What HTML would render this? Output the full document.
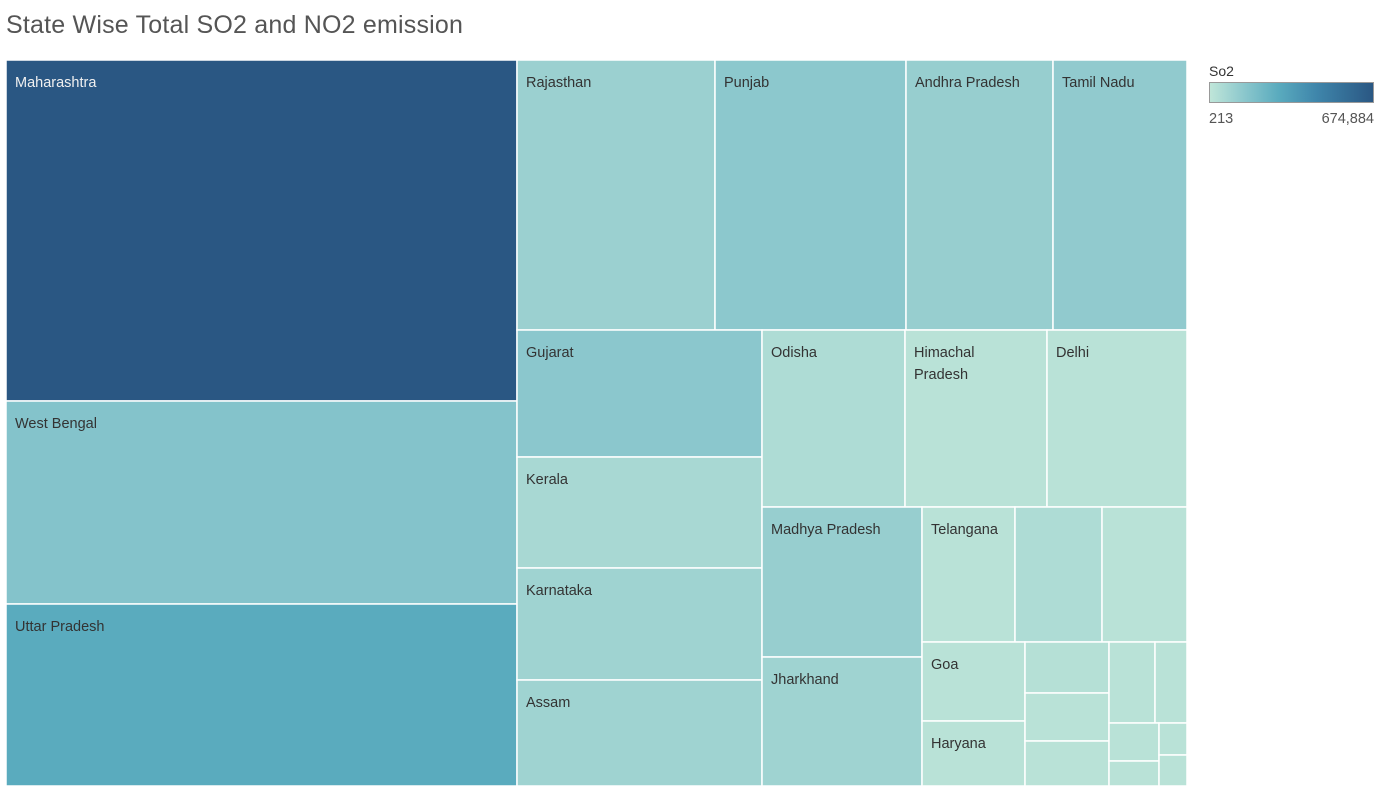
<!DOCTYPE html>
<html><head><meta charset="utf-8"><style>
body{margin:0;background:#fff;width:1380px;height:791px;overflow:hidden;font-family:"Liberation Sans",sans-serif}
#title{position:absolute;left:6px;top:11px;font-size:25px;color:#555;font-weight:300;letter-spacing:0.2px}
svg{position:absolute;left:0;top:0}
</style></head><body>
<div id="title">State Wise Total SO2 and NO2 emission</div>
<svg id="chart" width="1380" height="791">
 <text x="1209" y="76" font-size="14" fill="#333">So2</text>
 <defs><linearGradient id="lg" x1="0" x2="1">
  <stop offset="0" stop-color="#c0e6d9"/><stop offset="0.22" stop-color="#89c6cc"/><stop offset="0.42" stop-color="#5aabbe"/><stop offset="0.65" stop-color="#3f86ab"/><stop offset="1" stop-color="#2a5783"/>
 </linearGradient></defs>
 <rect x="1209.5" y="82.5" width="164" height="20" fill="url(#lg)" stroke="#999"/>
 <text x="1209" y="123" font-size="14.5" fill="#555">213</text>
 <text x="1374" y="123" font-size="14.5" fill="#555" text-anchor="end">674,884</text>
</svg>
<script>
// data
const states = ["Maharashtra","West Bengal","Uttar Pradesh","Rajasthan","Punjab","Andhra Pradesh","Tamil Nadu","Gujarat","Kerala","Karnataka","Assam","Odisha","Himachal Pradesh","Delhi","Madhya Pradesh","Jharkhand","Telangana","Chhattisgarh","Uttarakhand","Goa","Haryana","Bihar","Meghalaya","Chandigarh","Nagaland","Puducherry","Mizoram","Manipur","Tripura","Sikkim","Arunachal Pradesh"];
const labels = ["Maharashtra","West Bengal","Uttar Pradesh","Rajasthan","Punjab","Andhra Pradesh","Tamil Nadu","Gujarat","Kerala","Karnataka","Assam","Odisha","Himachal\nPradesh","Delhi","Madhya Pradesh","Jharkhand","Telangana","","","Goa","Haryana","","","","","","","","","",""];
const totals = [174251,103733,93002,53460,51570,39690,36180,31115,27195,27440,25970,25311,25134,24780,24000,20640,12555,11745,11475,8137,6695,4284,4032,3780,3726,2592,1900,1250,896,868,0];
const so2 = [674884,162000,283000,100000,140000,110000,128000,142000,65000,90000,90000,48000,20000,20000,110000,90000,20000,48000,20000,20000,20000,30000,20000,20000,20000,20000,20000,20000,20000,20000,213];
// layout structure (indices into arrays)
const tree = {d:'h',c:[
 {d:'v',c:[0,1,2]},
 {d:'v',c:[
   {d:'h',c:[3,4,5,6]},
   {d:'h',c:[
     {d:'v',c:[7,8,9,10]},
     {d:'v',c:[
       {d:'h',c:[11,12,13]},
       {d:'h',c:[
         {d:'v',c:[14,15]},
         {d:'v',c:[
           {d:'h',c:[16,17,18]},
           {d:'h',c:[
             {d:'v',c:[19,20]},
             {d:'v',c:[21,22,23]},
             {d:'v',c:[
               {d:'h',c:[24,25]},
               {d:'h',c:[{d:'v',c:[26,27]},{d:'v',c:[28,29]}]}
             ]}
           ]}
         ]}
       ]}
     ]}
   ]}
 ]}
]};
const X0=6,Y0=60,W=1181,H=726,MAX=674884,MIN=213;
const stops=[[0,[192,230,217]],[0.22,[137,198,204]],[0.42,[90,171,190]],[0.65,[63,134,171]],[1,[42,87,131]]];
function color(v){const t=Math.max(0,Math.min(1,(v-MIN)/(MAX-MIN)));
 for(let i=1;i<stops.length;i++){if(t<=stops[i][0]){const a=stops[i-1],b=stops[i],f=(t-a[0])/(b[0]-a[0]);
 return 'rgb('+a[1].map((x,k)=>Math.round(x+(b[1][k]-x)*f)).join(',')+')';}}return 'rgb(42,87,131)';}
function sum(n){return typeof n==='number'?totals[n]:n.c.reduce((s,c)=>s+sum(c),0);}
const svg=document.getElementById('chart');const NS='http://www.w3.org/2000/svg';
function lay(n,x,y,w,h){
 if(typeof n==='number'){
  const r=document.createElementNS(NS,'rect');
  r.setAttribute('x',x);r.setAttribute('y',y);r.setAttribute('width',w);r.setAttribute('height',h);
  r.setAttribute('fill',color(so2[n]));r.setAttribute('stroke','#fff');r.setAttribute('stroke-width','1.5');
  
  
  svg.appendChild(r);
  if(labels[n]){labels[n].split('\n').forEach((ln,i)=>{
   const t=document.createElementNS(NS,'text');t.textContent=ln;
   t.setAttribute('x',x+9);t.setAttribute('y',y+27+i*22);t.setAttribute('font-size','14.5');
   t.setAttribute('fill',so2[n]>400000?'#f0f0f0':'#333');
   
   
   svg.appendChild(t);});}
  return;}
 const tot=sum(n);let off=0;
 n.c.forEach(c=>{const f=sum(c)/tot;
  if(n.d==='h'){lay(c,x+off,y,w*f,h);off+=w*f;}else{lay(c,x,y+off,w,h*f);off+=h*f;}});
}
lay(tree,X0,Y0,W,H);
</script>
</body></html>
